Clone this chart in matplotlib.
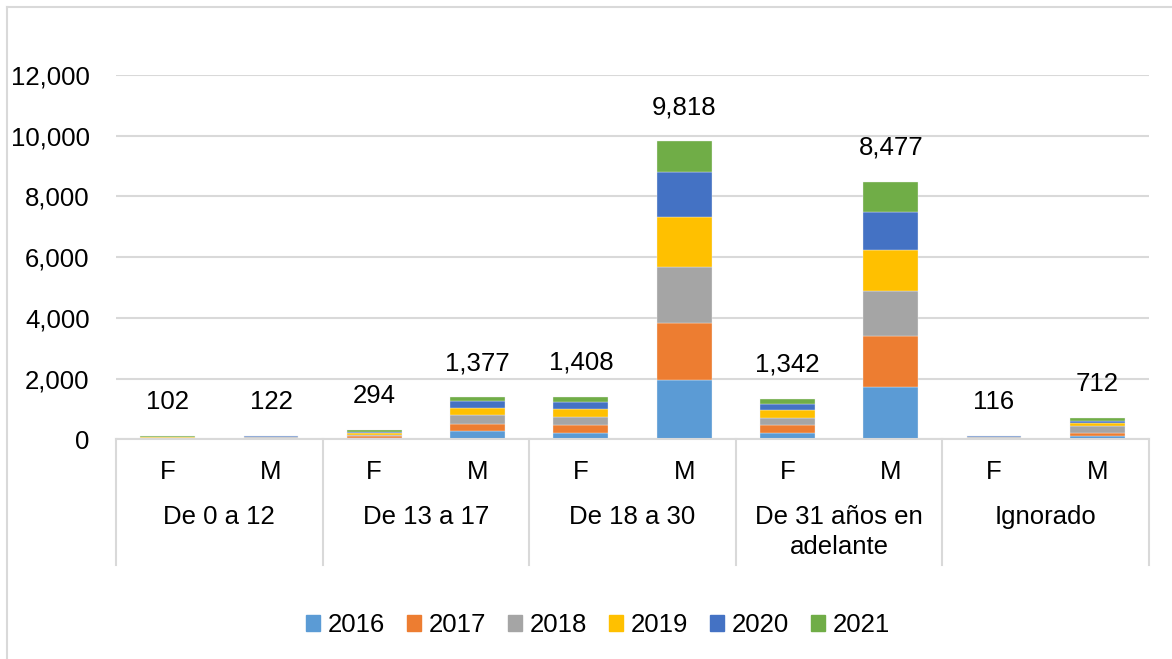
import matplotlib
matplotlib.use("Agg")
import matplotlib.pyplot as plt
import matplotlib.transforms as mtransforms
from matplotlib.lines import Line2D
import numpy as np

plt.rcParams['font.family'] = ['Liberation Sans', 'DejaVu Sans']

groups = ["De 0 a 12", "De 13 a 17", "De 18 a 30", "De 31 años en\nadelante", "Ignorado"]
sexes = ["F", "M"]
years = ["2016", "2017", "2018", "2019", "2020", "2021"]
colors = ["#5B9BD5", "#ED7D31", "#A5A5A5", "#FFC000", "#4472C4", "#70AD47"]

# values per bar (order: 0-12 F, 0-12 M, 13-17 F, 13-17 M, 18-30 F, 18-30 M, 31+ F, 31+ M, Ign F, Ign M)
v2016 = [15, 20, 50, 279, 210, 1945, 221, 1728, 20, 115]
v2017 = [15, 25, 55, 235, 266, 1899, 235, 1675, 20, 92]
v2018 = [15, 20, 50, 302, 266, 1846, 235, 1497, 20, 229]
v2019 = [15, 20, 50, 225, 243, 1639, 258, 1345, 20, 103]
v2020 = [17, 17, 50, 222, 256, 1461, 211, 1242, 18, 70]
v2021 = [25, 20, 39, 114, 167, 1028, 182, 990, 18, 103]
totals = [102, 122, 294, 1377, 1408, 9818, 1342, 8477, 116, 712]

series = [v2016, v2017, v2018, v2019, v2020, v2021]

W, H = 1172, 659
fig = plt.figure(figsize=(W / 100, H / 100), dpi=100)
ax_left, ax_right = 116 / W, 1149 / W
ax_bottom, ax_top = (H - 439.3) / H, (H - 75) / H
ax = fig.add_axes([ax_left, ax_bottom, ax_right - ax_left, ax_top - ax_bottom])

n = len(totals)
x = np.arange(n)
bottom = np.zeros(n)
for vals, col, yr in zip(series, colors, years):
    ax.bar(x, vals, width=0.53, bottom=bottom, color=col, label=yr,
           edgecolor="#F2F2F2", linewidth=0.25, zorder=3)
    bottom += np.array(vals)

fs = 18.5
for xi, t in zip(x, totals):
    ax.annotate(f"{t:,}", (xi, t), xytext=(0, 24.5), textcoords="offset points",
                ha="center", va="center", fontsize=fs, color="black")

ax.set_xlim(-0.5, n - 0.5)
ax.set_ylim(0, 12000)
ax.set_yticks(np.arange(0, 12001, 2000))
ax.set_yticklabels([f"{v:,}" for v in range(0, 12001, 2000)], fontsize=fs)
ax.tick_params(axis="y", length=0, pad=19)
ax.set_xticks([])
ax.grid(axis="y", color="#D9D9D9", linewidth=1.5, zorder=0)
for s in ["top", "right", "left"]:
    ax.spines[s].set_visible(False)
ax.spines["bottom"].set_color("#D9D9D9")
ax.spines["bottom"].set_linewidth(1.5)
ax.spines["bottom"].set_zorder(4)

ax_h_px = (ax_top - ax_bottom) * H
trans = mtransforms.blended_transform_factory(ax.transData, ax.transAxes)

# sex labels
for xi in x:
    ax.text(xi, -32.4 / ax_h_px, sexes[xi % 2], transform=trans, ha="center",
            va="center", fontsize=fs)
# group labels
for gi, g in enumerate(groups):
    ax.text(2 * gi + 0.5, -66 / ax_h_px, g, transform=trans, ha="center",
            va="top", fontsize=fs, linespacing=1.3)
# group separators
for b in np.arange(-0.5, n, 2):
    ax.plot([b, b], [0, -126 / ax_h_px], transform=trans, color="#D9D9D9",
            linewidth=1.5, clip_on=False)

# legend
handles = [plt.Rectangle((0, 0), 1, 1, color=c) for c in colors]
fig.legend(handles, years, loc="center", bbox_to_anchor=(598 / W, 1 - 625 / H),
           ncol=6, frameon=False, fontsize=fs, handlelength=0.55, handleheight=0.55,
           handletextpad=0.3, columnspacing=0.85)

# chart border (left and top visible)
fig.add_artist(Line2D([7 / W, 7 / W], [0, 1 - 7 / H], color="#D9D9D9", linewidth=1.5))
fig.add_artist(Line2D([7 / W, 1], [1 - 7 / H, 1 - 7 / H], color="#D9D9D9", linewidth=1.5))

fig.savefig("out.png", dpi=100)
